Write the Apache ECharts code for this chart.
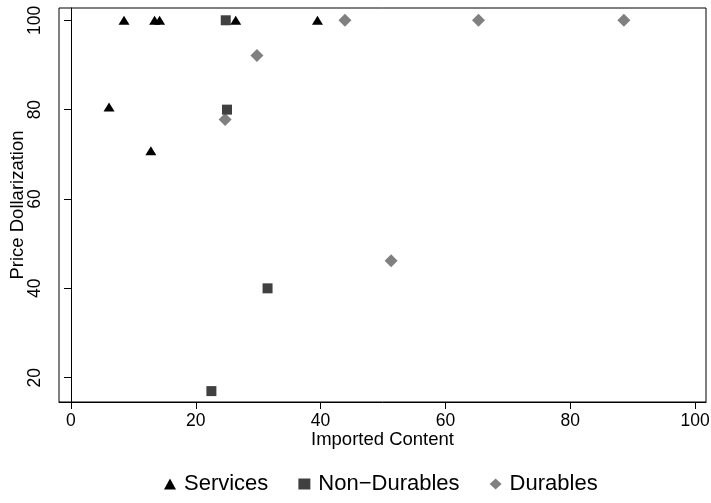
<!DOCTYPE html>
<html>
<head>
<meta charset="utf-8">
<script src="https://cdn.jsdelivr.net/npm/echarts@6/dist/echarts.min.js"></script>
<style>
html,body{margin:0;padding:0;background:#fff;}
#chart{width:711px;height:503px;}
</style>
</head>
<body>
<div id="chart"></div>
<script>
// Data
const servicesX = [6.1, 8.5, 13.4, 14.2, 12.8, 26.4, 39.5];
const servicesY = [80.6, 100, 100, 100, 70.8, 100, 100];
const nonDurX = [24.8, 25.0, 31.5, 22.5];
const nonDurY = [100, 80, 40, 17];
const durX = [24.7, 29.8, 43.9, 51.3, 65.3, 88.6];
const durY = [77.8, 92.1, 100, 46.2, 100, 100];
const xTicks = [0, 20, 40, 60, 80, 100];
const yTicks = [20, 40, 60, 80, 100];
const seriesNames = ['Services', 'Non\u2212Durables', 'Durables'];

const pair = (xs, ys) => xs.map((x, i) => [x, ys[i]]);
const FONT = "'Liberation Sans', Arial, Helvetica, sans-serif";

const chart = echarts.init(document.getElementById('chart'), null, {renderer: 'canvas'});
chart.setOption({
  animation: false,
  backgroundColor: '#ffffff',
  grid: {left: 59, top: 8, right: 5, bottom: 101, containLabel: false, outerBoundsMode: 'none',
         show: true, borderColor: '#000', borderWidth: 1, backgroundColor: 'transparent'},
  xAxis: {
    type: 'value', min: -1.92, max: 101.76,
    name: 'Imported Content', nameLocation: 'middle', nameGap: 28, nameMoveOverlap: false,
    nameTextStyle: {fontFamily: FONT, fontSize: 18.5, color: '#000'},
    axisLine: {show: true, lineStyle: {color: '#000', width: 1}},
    axisTick: {show: true, length: 7, lineStyle: {color: '#000'}, customValues: xTicks},
    axisLabel: {fontFamily: FONT, fontSize: 17.5, color: '#000', margin: 10, customValues: xTicks},
    splitLine: {show: false}
  },
  yAxis: {
    type: 'value', min: 14.56, max: 102.75,
    name: 'Price Dollarization', nameLocation: 'middle', nameGap: 32, nameRotate: 90, nameMoveOverlap: false,
    nameTextStyle: {fontFamily: FONT, fontSize: 18.5, color: '#000'},
    axisLine: {show: true, lineStyle: {color: '#000', width: 1}},
    axisTick: {show: true, length: 7, lineStyle: {color: '#000'}, customValues: yTicks},
    axisLabel: {fontFamily: FONT, fontSize: 17.5, color: '#000', margin: 15, rotate: 90, customValues: yTicks},
    splitLine: {show: false}
  },
  legend: {
    left: 164, top: 473, padding: 0, itemGap: 30, itemWidth: 12, itemHeight: 11,
    textStyle: {fontFamily: FONT, fontSize: 22, color: '#000', padding: [0, 0, 0, 3]},
    data: [
      {name: seriesNames[0], icon: 'triangle'},
      {name: seriesNames[1], icon: 'rect'},
      {name: seriesNames[2], icon: 'diamond'}
    ]
  },
  series: [
    {name: seriesNames[0], type: 'scatter', symbol: 'triangle', symbolSize: [11, 9],
     itemStyle: {color: '#000000', opacity: 1}, data: pair(servicesX, servicesY), z: 3},
    {name: seriesNames[1], type: 'scatter', symbol: 'rect', symbolSize: 10,
     itemStyle: {color: '#404040', opacity: 1}, data: pair(nonDurX, nonDurY), z: 2},
    {name: seriesNames[2], type: 'scatter', symbol: 'diamond', symbolSize: 13,
     itemStyle: {color: '#808080', opacity: 1}, data: pair(durX, durY), z: 1}
  ]
});
</script>
</body>
</html>
